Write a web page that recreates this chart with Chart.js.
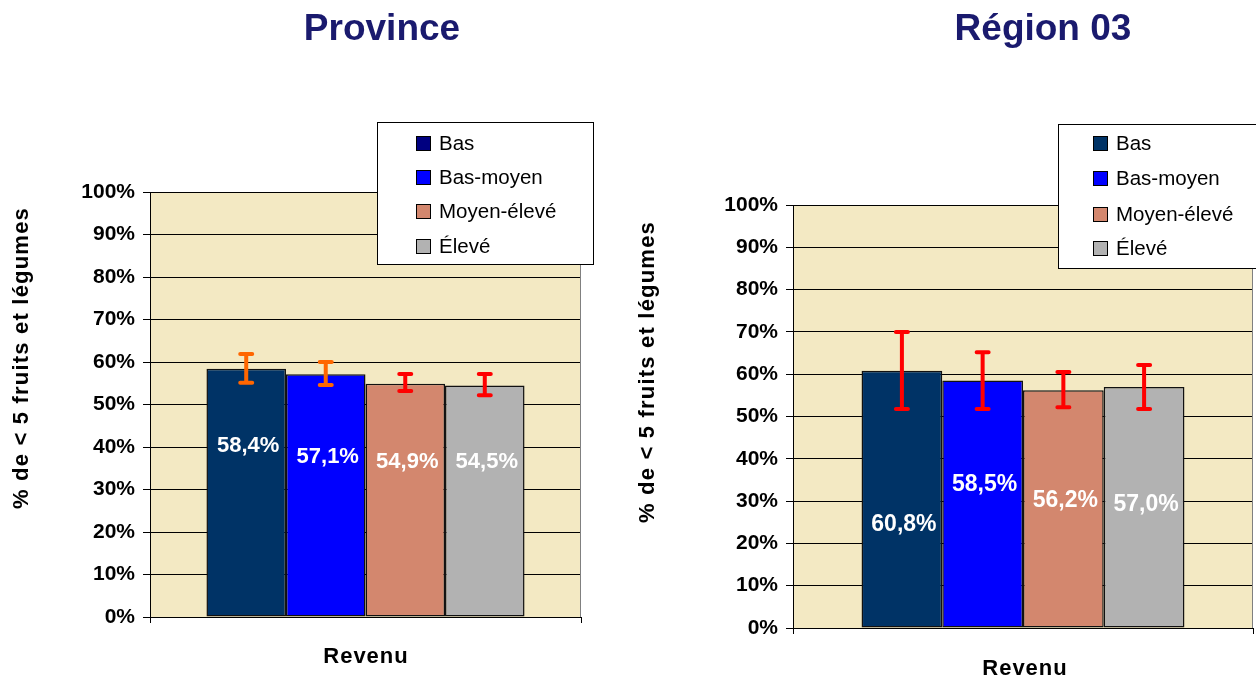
<!DOCTYPE html>
<html lang="fr">
<head>
<meta charset="utf-8">
<title>Moins de 5 fruits et légumes selon le revenu</title>
<script src="https://cdn.jsdelivr.net/npm/chart.js@4.4.1/dist/chart.umd.min.js"></script>
<style>
  html, body { margin: 0; padding: 0; background: #fff; }
  #wrap { position: relative; width: 1256px; height: 681px; overflow: hidden; }
  canvas { position: absolute; top: 0; }
  #cProvince { left: 0; }
  #cRegion { left: 628px; }
</style>
</head>
<body>
<div id="wrap">
  <canvas id="cProvince" width="628" height="681"></canvas>
  <canvas id="cRegion" width="628" height="681"></canvas>
</div>
<script>
// Données
const revenus = ["Bas", "Bas-moyen", "Moyen-élevé", "Élevé"];
const titres = ["Province", "Région 03"];
const titreY = "% de < 5 fruits et légumes";
const titreX = "Revenu";

const provinceVals = [58.4, 57.1, 54.9, 54.5];
const provinceBas = [55.1, 54.6, 53.2, 52.2];
const provinceHaut = [61.9, 60.0, 57.2, 57.2];

const regionVals = [60.8, 58.5, 56.2, 57.0];
const regionBas = [51.8, 51.8, 52.2, 51.8];
const regionHaut = [70.0, 65.2, 60.5, 62.2];

const couleurs = ["#003366", "#0000ff", "#d3876e", "#b2b2b2"];
const FONT = "'Liberation Sans', Arial, sans-serif";

const fmt = (v) => v.toFixed(1).replace(".", ",") + "%";

// fond, barres d'erreur, étiquettes, titres et légende
const decoPlugin = {
  id: "deco",
  beforeDraw(chart) {
    const { ctx, chartArea: a } = chart;
    ctx.save();
    ctx.fillStyle = "#f3e9c3";
    ctx.fillRect(a.left, a.top, a.right - a.left, a.bottom - a.top);
    ctx.restore();
  },
  afterDatasetsDraw(chart, args, o) {
    const { ctx, chartArea: a } = chart;
    const y = chart.scales.y;
    ctx.save();
    ctx.strokeStyle = "#808080";
    ctx.lineWidth = 1;
    ctx.beginPath();
    ctx.moveTo(a.right - 0.5, a.top);
    ctx.lineTo(a.right - 0.5, a.bottom);
    ctx.stroke();

    chart.data.datasets.forEach((ds, i) => {
      const bar = chart.getDatasetMeta(i).data[0];
      const v = ds.data[0];
      // valeur dans la barre
      ctx.fillStyle = "#fff";
      ctx.font = "bold " + o.labelSize + "px " + FONT;
      ctx.textAlign = "center";
      ctx.textBaseline = "middle";
      ctx.fillText(fmt(v), bar.x + 2, y.getPixelForValue(v * o.labelFrac[i]));
      // barre d'erreur
      const lo = y.getPixelForValue(o.bas[i]);
      const hi = y.getPixelForValue(o.haut[i]);
      ctx.strokeStyle = o.errColors[i];
      ctx.lineWidth = 4;
      ctx.lineCap = "round";
      ctx.beginPath();
      ctx.moveTo(bar.x, lo);
      ctx.lineTo(bar.x, hi);
      ctx.moveTo(bar.x - 6, lo);
      ctx.lineTo(bar.x + 6, lo);
      ctx.moveTo(bar.x - 6, hi);
      ctx.lineTo(bar.x + 6, hi);
      ctx.stroke();
    });
    ctx.restore();
  },
  afterDraw(chart, args, o) {
    const ctx = chart.ctx;
    ctx.save();
    ctx.fillStyle = "#1a1a6e";
    ctx.textAlign = "center";
    ctx.textBaseline = "alphabetic";
    ctx.font = "bold 37px " + FONT;
    ctx.fillText(o.titre.text, o.titre.x, o.titre.y);

    ctx.fillStyle = "#000";
    ctx.font = "bold 22px " + FONT;
    ctx.letterSpacing = "1px";
    ctx.fillText(titreX, o.xTitre.x, o.xTitre.y);

    ctx.save();
    ctx.translate(o.yTitre.x, o.yTitre.y);
    ctx.rotate(-Math.PI / 2);
    ctx.textBaseline = "middle";
    ctx.letterSpacing = "1.2px";
    ctx.fillText(titreY, 0, 0);
    ctx.restore();
    ctx.letterSpacing = "0px";

    // légende
    const L = o.legende;
    ctx.fillStyle = "#fff";
    ctx.fillRect(L.x, L.y, L.w, L.h);
    ctx.strokeStyle = "#000";
    ctx.lineWidth = 1;
    ctx.strokeRect(L.x + 0.5, L.y + 0.5, L.w, L.h);
    ctx.font = "20.5px " + FONT;
    ctx.textAlign = "left";
    ctx.textBaseline = "middle";
    revenus.forEach((r, i) => {
      const ry = L.rows[i];
      ctx.fillStyle = L.colors[i];
      ctx.fillRect(L.sx, ry - 7, 15, 15);
      ctx.strokeRect(L.sx + 0.5, ry - 6.5, 14, 14);
      ctx.fillStyle = "#000";
      ctx.fillText(r, L.tx, ry + 1);
    });
    ctx.restore();
  },
};

function creerGraphique(id, vals, opts) {
  return new Chart(document.getElementById(id), {
    type: "bar",
    data: {
      labels: [""],
      datasets: revenus.map((r, i) => ({
        label: r,
        data: [vals[i]],
        backgroundColor: couleurs[i],
        borderColor: "#111",
        borderWidth: 1.5,
        borderSkipped: false,
        categoryPercentage: opts.catPct,
        barPercentage: 1,
      })),
    },
    options: {
      responsive: false,
      animation: false,
      events: [],
      layout: { padding: opts.padding },
      plugins: {
        legend: { display: false },
        tooltip: { enabled: false },
        deco: opts.deco,
      },
      scales: {
        x: {
          offset: true,
          grid: { offset: true, drawOnChartArea: false, color: "#000", tickLength: 6 },
          border: { color: "#000" },
          ticks: { display: false },
          afterFit: (s) => { s.height = opts.xHeight; },
        },
        y: {
          min: 0,
          max: 100,
          ticks: {
            stepSize: 10,
            callback: (v) => v + "%",
            color: "#000",
            font: { family: FONT, size: 21, weight: "bold" },
            padding: 8,
          },
          grid: { color: "#000", tickLength: 7 },
          border: { color: "#000" },
          afterFit: (s) => { s.width = opts.yWidth; },
        },
      },
    },
    plugins: [decoPlugin],
  });
}

creerGraphique("cProvince", provinceVals, {
  catPct: 0.738,
  padding: { top: 192, right: 47, bottom: 0, left: 0 },
  yWidth: 150,
  xHeight: 64,
  deco: {
    titre: { text: titres[0], x: 382, y: 40 },
    xTitre: { x: 366, y: 663 },
    yTitre: { x: 22, y: 358 },
    labelSize: 22,
    labelFrac: [0.69, 0.66, 0.665, 0.67],
    bas: provinceBas,
    haut: provinceHaut,
    errColors: ["#ff6600", "#ff6600", "#ff0000", "#ff0000"],
    legende: {
      x: 377, y: 122, w: 216, h: 142, sx: 416, tx: 439,
      rows: [143, 177, 211, 246],
      colors: ["#000080", "#0000ff", "#d3876e", "#b2b2b2"],
    },
  },
});

creerGraphique("cRegion", regionVals, {
  catPct: 0.702,
  padding: { top: 205, right: 3, bottom: 0, left: 0 },
  yWidth: 165,
  xHeight: 53,
  deco: {
    titre: { text: titres[1], x: 415, y: 40 },
    xTitre: { x: 397, y: 675 },
    yTitre: { x: 20, y: 372 },
    labelSize: 23,
    labelFrac: [0.4, 0.58, 0.534, 0.513],
    bas: regionBas,
    haut: regionHaut,
    errColors: ["#ff0000", "#ff0000", "#ff0000", "#ff0000"],
    legende: {
      x: 430, y: 124, w: 210, h: 144, sx: 465, tx: 488,
      rows: [143, 178, 214, 248],
      colors: couleurs,
    },
  },
});
</script>
</body>
</html>
